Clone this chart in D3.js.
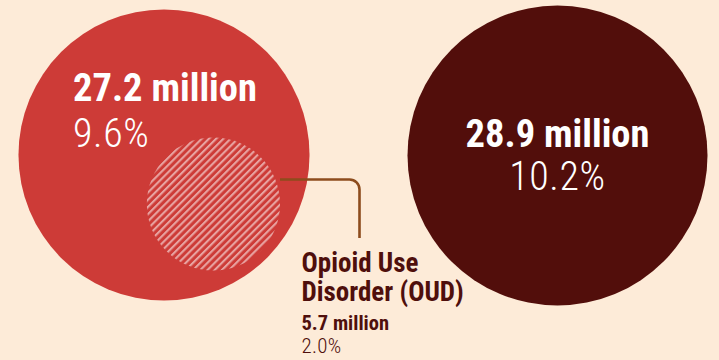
<!DOCTYPE html>
<html>
<head>
<meta charset="utf-8">
<script src="https://cdn.jsdelivr.net/npm/d3@7"></script>
<style>
  html, body { margin: 0; padding: 0; background: #fdebd8; }
  svg { display: block; }
  text { font-family: "Liberation Sans Narrow", "Roboto Condensed", "Arial Narrow", "Liberation Sans", sans-serif; }
</style>
</head>
<body>
<script>
// Population totals (millions) and shares for the two circles
const circleKeys = ["left", "right"];
const circleMillions = [27.2, 28.9];
const circlePercents = [9.6, 10.2];

// Subset nested inside the left circle
const subsetLabel = ["Opioid Use", "Disorder (OUD)"];
const subsetMillions = [5.7];
const subsetPercents = [2.0];

const W = 719, H = 360;
const bg = "#fdebd8";
const fills = ["#cd3b37", "#520e0b"];
const darkText = "#4f0f0c";
const leaderColor = "#8d4c1d";

const svg = d3.select("body").append("svg")
  .attr("width", W).attr("height", H);

svg.append("rect").attr("width", W).attr("height", H).attr("fill", bg);

// Circle area is proportional to the population count
const r = d3.scaleSqrt().domain([0, d3.max(circleMillions)]).range([0, 150]);

const centers = [[164, 155], [557.5, 155.5]];

// Diagonal stripe pattern for the OUD subset
const step = 5.1;
const defs = svg.append("defs");
const pat = defs.append("pattern")
  .attr("id", "stripes")
  .attr("patternUnits", "userSpaceOnUse")
  .attr("width", step).attr("height", step)
  .attr("patternTransform", "rotate(-45)");
pat.append("rect").attr("width", step).attr("height", step).attr("fill", fills[0]);
pat.append("rect").attr("y", 0).attr("width", step).attr("height", 2.1)
  .attr("fill", "#e8a3a1");

// Main circles
svg.selectAll("circle.main")
  .data(circleMillions)
  .join("circle")
  .attr("class", "main")
  .attr("cx", (d, i) => centers[i][0])
  .attr("cy", (d, i) => centers[i][1])
  .attr("r", d => r(d))
  .attr("fill", (d, i) => fills[i]);

// Subset circle
const sub = { cx: 213.4, cy: 204 };
const subR = r(subsetMillions[0]);
svg.append("circle")
  .attr("cx", sub.cx).attr("cy", sub.cy).attr("r", subR)
  .attr("fill", "url(#stripes)");

// Leader line from the subset to its label
const lx = sub.cx + subR, ly = 179.5, vx = 359.5, vy = 238, cr = 10;
const path = d3.path();
path.moveTo(lx, ly);
path.lineTo(vx - cr, ly);
path.arcTo(vx, ly, vx, ly + cr, cr);
path.lineTo(vx, vy);
svg.append("path")
  .attr("d", path.toString())
  .attr("fill", "none")
  .attr("stroke", leaderColor)
  .attr("stroke-width", 2.6);

// Labels inside the main circles
const fmtM = v => `${v} million`;
const fmtP = v => `${d3.format(".1f")(v)}%`;

const labelPos = [
  { x: 73, anchor: "start", y1: 101, y2: 146.5 },
  { x: 557.5, anchor: "middle", y1: 146.5, y2: 190 }
];

circleMillions.forEach((v, i) => {
  const p = labelPos[i];
  svg.append("text")
    .attr("x", p.x).attr("y", p.y1)
    .attr("text-anchor", p.anchor)
    .attr("fill", "#ffffff")
    .attr("font-size", 38.5)
    .attr("font-weight", 700)
    .text(fmtM(v));
  svg.append("text")
    .attr("x", p.x).attr("y", p.y2)
    .attr("text-anchor", p.anchor)
    .attr("fill", "#ffffff")
    .attr("font-size", 40)
    .attr("font-weight", 300)
    .attr("letter-spacing", 0.6)
    .text(fmtP(circlePercents[i]));
});

// Subset label block
const sx = 301.5;
svg.append("text")
  .attr("x", sx).attr("y", 271.5)
  .attr("fill", darkText).attr("font-size", 27).attr("font-weight", 700)
  .text(subsetLabel[0]);
svg.append("text")
  .attr("x", sx).attr("y", 301)
  .attr("fill", darkText).attr("font-size", 27).attr("font-weight", 700)
  .text(subsetLabel[1]);
svg.append("text")
  .attr("x", sx).attr("y", 329.5)
  .attr("fill", darkText).attr("font-size", 20.5).attr("font-weight", 700)
  .text(fmtM(subsetMillions[0]));
svg.append("text")
  .attr("x", sx).attr("y", 353)
  .attr("fill", darkText).attr("font-size", 21).attr("font-weight", 300)
  .attr("letter-spacing", 0.3)
  .text(fmtP(subsetPercents[0]));
</script>
</body>
</html>
